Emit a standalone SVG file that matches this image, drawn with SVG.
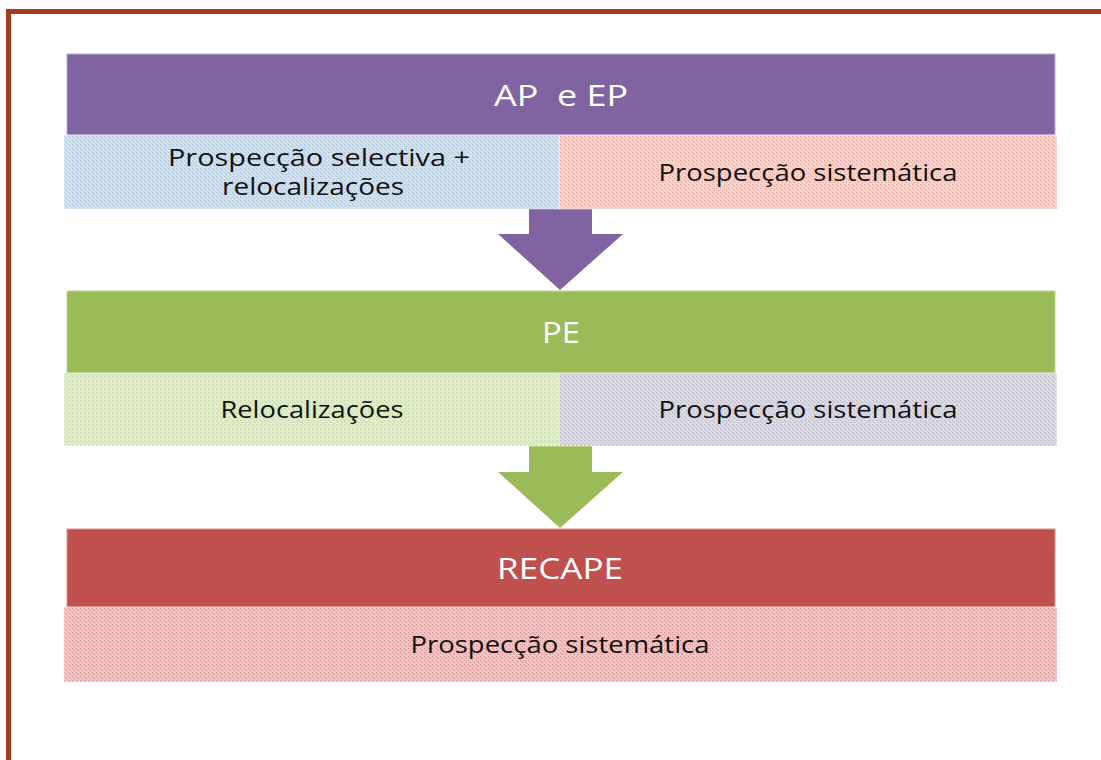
<svg xmlns="http://www.w3.org/2000/svg" width="1101" height="760" viewBox="0 0 1101 760">
  <defs>
    <pattern id="pBlue" width="4" height="4" patternUnits="userSpaceOnUse">
      <rect width="4" height="4" fill="#d3dfea"/>
      <rect x="0" y="0" width="1" height="1" fill="#a9bfd3"/>
      <rect x="2" y="2" width="1" height="1" fill="#a9bfd3"/>
      <rect x="1" y="1" width="1" height="1" fill="#c2d3e2"/>
    </pattern>
    <pattern id="pPink" width="4" height="4" patternUnits="userSpaceOnUse">
      <rect width="4" height="4" fill="#f5d3cb"/>
      <rect x="0" y="0" width="1" height="1" fill="#dfa9a2"/>
      <rect x="2" y="2" width="1" height="1" fill="#dfa9a2"/>
      <rect x="1" y="1" width="1" height="1" fill="#ecc2ba"/>
    </pattern>
    <pattern id="pGreen" width="4" height="4" patternUnits="userSpaceOnUse">
      <rect width="4" height="4" fill="#e2ead1"/>
      <rect x="0" y="0" width="1" height="1" fill="#c1d3a0"/>
      <rect x="2" y="2" width="1" height="1" fill="#c1d3a0"/>
      <rect x="1" y="1" width="1" height="1" fill="#d3e0bb"/>
    </pattern>
    <pattern id="pGray" width="4" height="4" patternUnits="userSpaceOnUse">
      <rect width="4" height="4" fill="#dad9e1"/>
      <rect x="0" y="0" width="1" height="1" fill="#b9b7c4"/>
      <rect x="2" y="2" width="1" height="1" fill="#b9b7c4"/>
      <rect x="1" y="1" width="1" height="1" fill="#cccad4"/>
    </pattern>
    <pattern id="pRed" width="4" height="4" patternUnits="userSpaceOnUse">
      <rect width="4" height="4" fill="#eac6c6"/>
      <rect x="0" y="0" width="1" height="1" fill="#d48e8e"/>
      <rect x="2" y="2" width="1" height="1" fill="#d48e8e"/>
      <rect x="1" y="1" width="1" height="1" fill="#e0aeae"/>
    </pattern>
  </defs>
  <style>
    .hdr { font-family: "Open Sans", "Liberation Sans", sans-serif; font-size: 29px; fill: #ffffff; text-anchor: middle; }
    .sub { font-family: "Open Sans", "Liberation Sans", sans-serif; font-size: 23.5px; fill: #111111; text-anchor: middle; }
    .cell { stroke: #ffffff; stroke-opacity: 0.45; stroke-width: 1; }
  </style>
  <rect width="1101" height="760" fill="#ffffff"/>
  <g id="frame" fill="#a33c22">
    <rect x="6" y="9" width="1095" height="5"/>
    <rect x="6" y="9" width="5" height="751"/>
  </g>

  <g id="connectors">
    <polygon points="529,209 592,209 592,234 623,234 560,290 498,234 529,234" fill="#8064a2"/>
    <polygon points="529,446 592,446 592,472 623,472 560,528 498,472 529,472" fill="#9bbb59"/>
  </g>

  <g id="node-apep">
    <rect x="67" y="54" width="988" height="81" fill="#8064a2" stroke="#b9a8cc" stroke-width="1"/>
    <text class="hdr" x="561" y="106" textLength="134" lengthAdjust="spacingAndGlyphs" xml:space="preserve">AP  e EP</text>
  </g>
  <g id="node-apep-left">
    <rect class="cell" x="64" y="135" width="495" height="74" fill="url(#pBlue)"/>
    <text class="sub" x="319" y="166" textLength="302" lengthAdjust="spacingAndGlyphs">Prospecção selectiva +</text>
    <text class="sub" x="313" y="195" textLength="182" lengthAdjust="spacingAndGlyphs">relocalizações</text>
  </g>
  <g id="node-apep-right">
    <rect class="cell" x="559" y="135" width="498" height="74" fill="url(#pPink)"/>
    <text class="sub" x="808" y="181" textLength="299" lengthAdjust="spacingAndGlyphs">Prospecção sistemática</text>
  </g>

  <g id="node-pe">
    <rect x="67" y="291" width="988" height="82" fill="#9bbb59" stroke="#c3d69b" stroke-width="1"/>
    <text class="hdr" x="561" y="343" textLength="38" lengthAdjust="spacingAndGlyphs">PE</text>
  </g>
  <g id="node-pe-left">
    <rect class="cell" x="64" y="373" width="495" height="73" fill="url(#pGreen)"/>
    <text class="sub" x="312" y="418" textLength="183" lengthAdjust="spacingAndGlyphs">Relocalizações</text>
  </g>
  <g id="node-pe-right">
    <rect class="cell" x="559" y="373" width="498" height="73" fill="url(#pGray)"/>
    <text class="sub" x="808" y="418" textLength="299" lengthAdjust="spacingAndGlyphs">Prospecção sistemática</text>
  </g>

  <g id="node-recape">
    <rect x="67" y="529" width="988" height="78" fill="#c0504d" stroke="#d99694" stroke-width="1"/>
    <text class="hdr" x="560" y="579" textLength="126" lengthAdjust="spacingAndGlyphs">RECAPE</text>
  </g>
  <g id="node-recape-sub">
    <rect class="cell" x="64" y="607" width="993" height="75" fill="url(#pRed)"/>
    <text class="sub" x="560" y="653" textLength="299" lengthAdjust="spacingAndGlyphs">Prospecção sistemática</text>
  </g>
</svg>
